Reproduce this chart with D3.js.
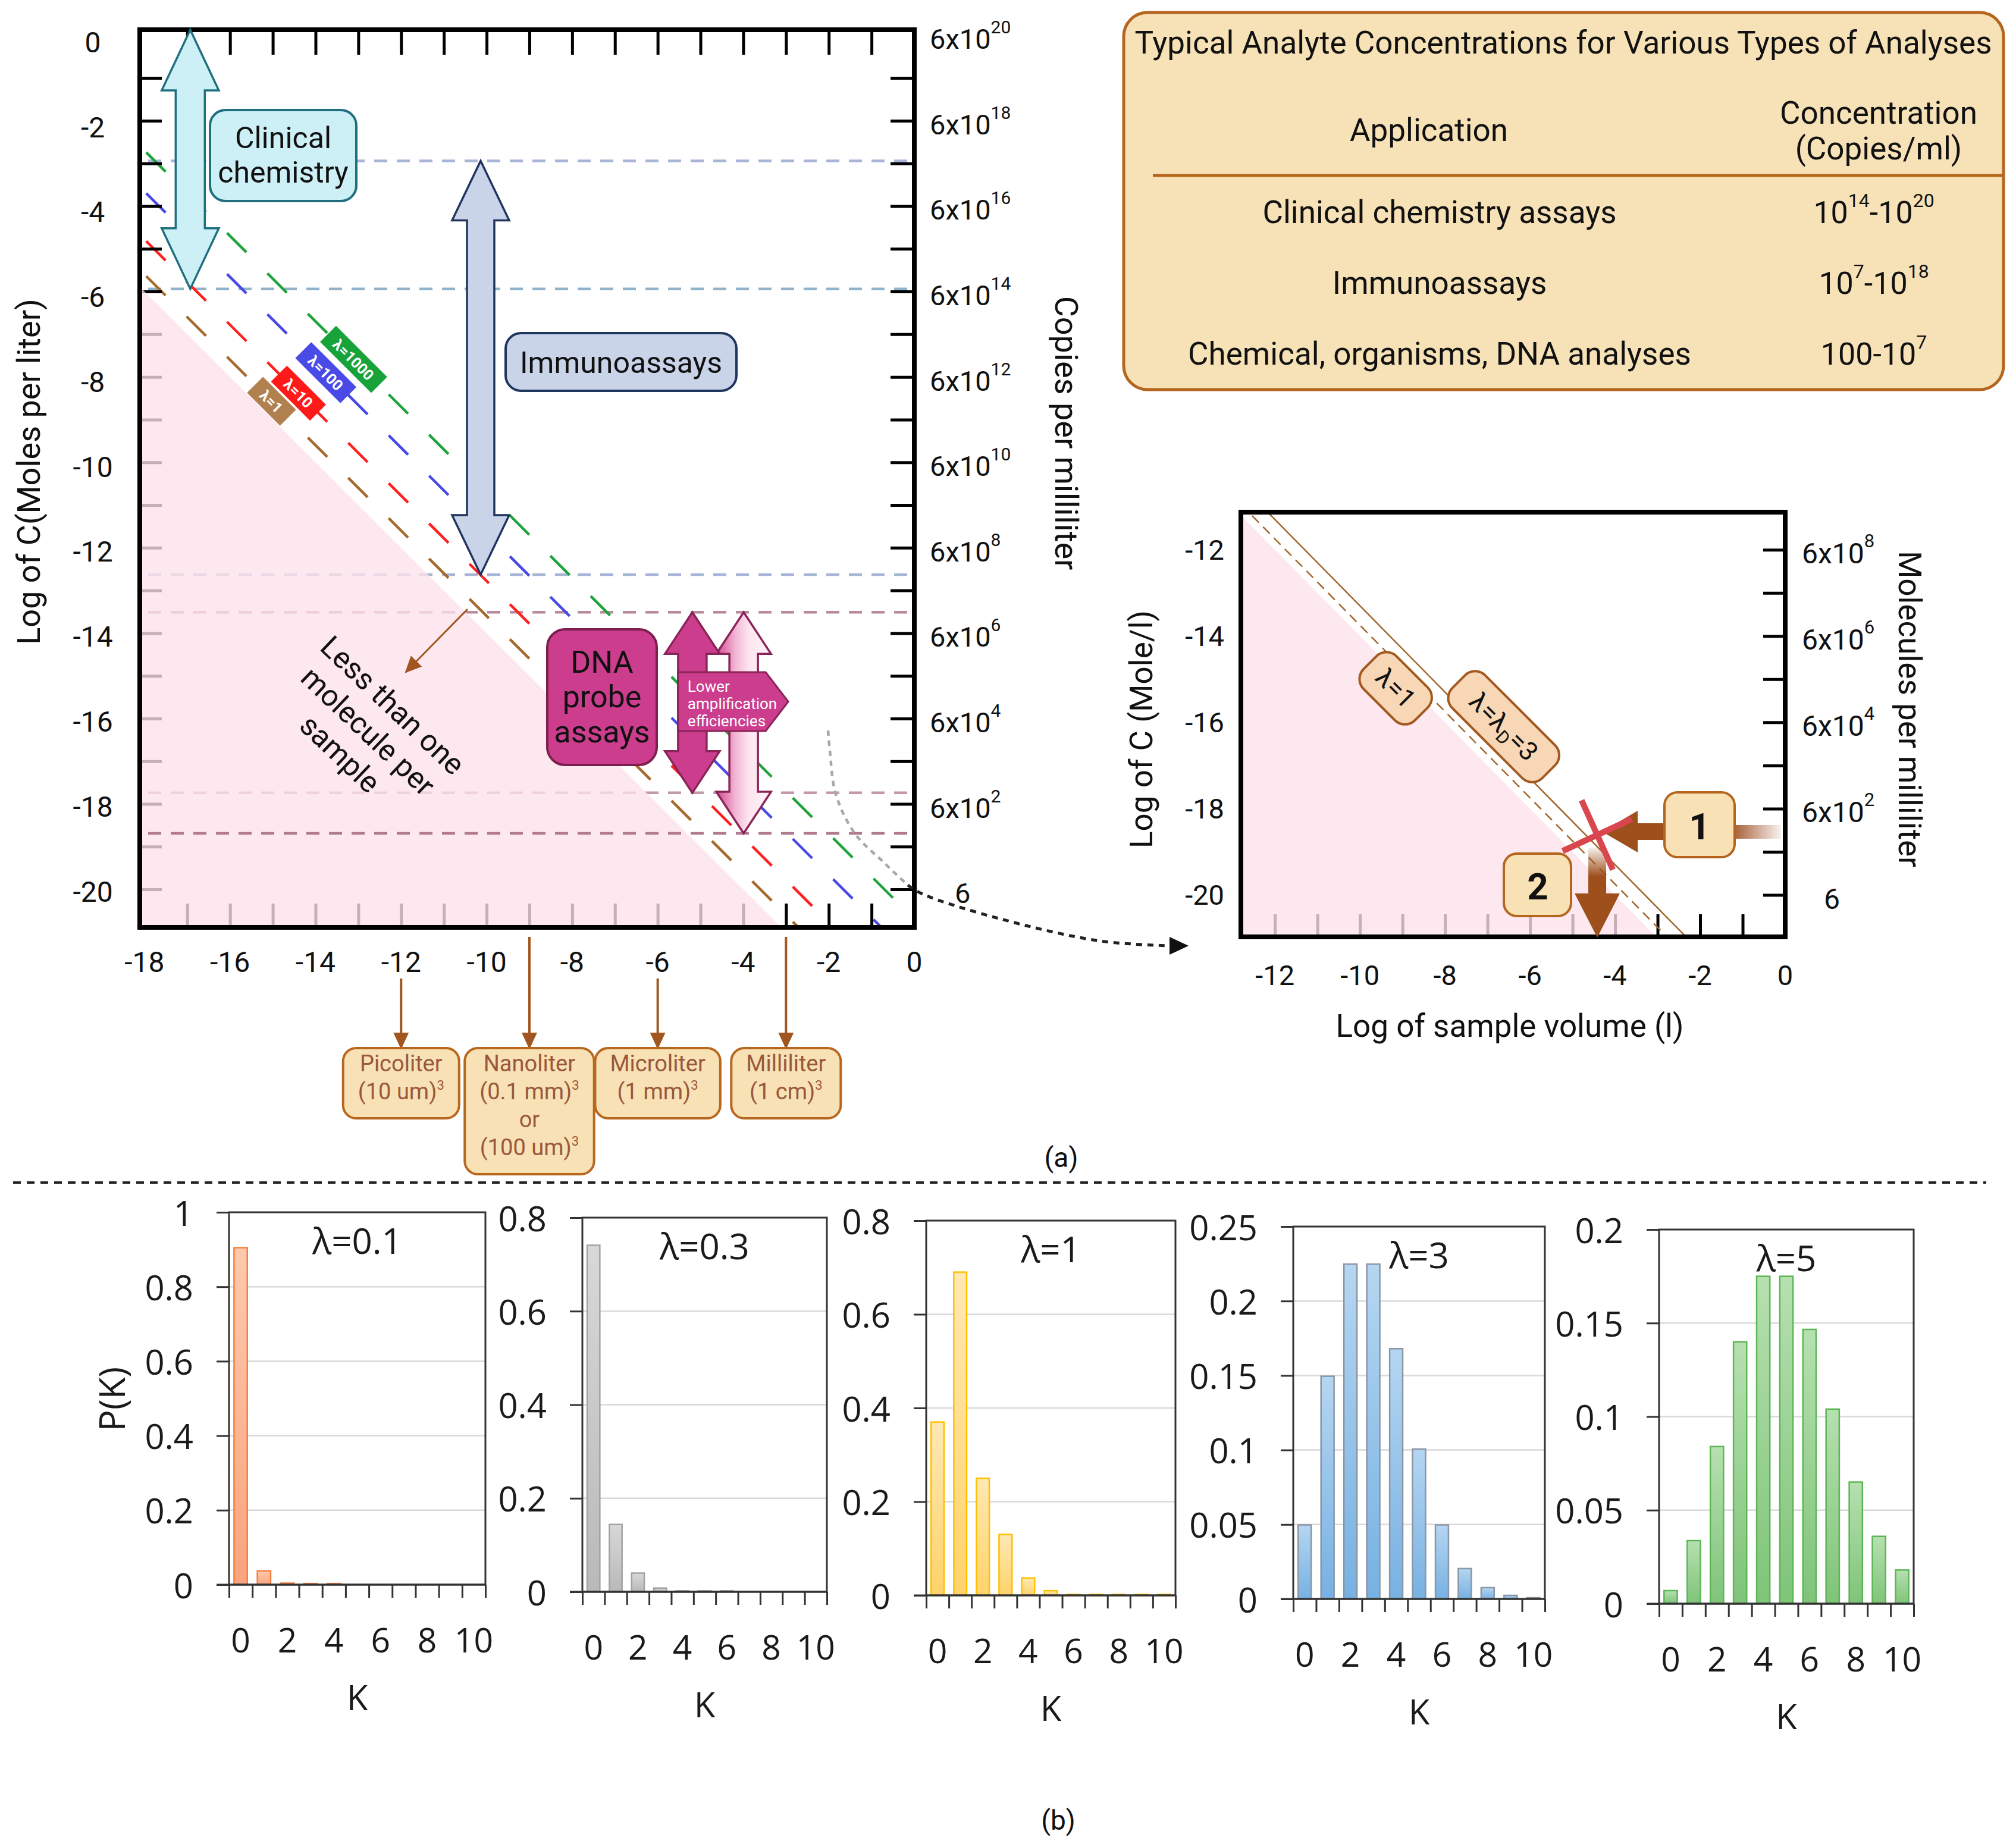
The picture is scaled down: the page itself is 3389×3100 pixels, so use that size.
<!DOCTYPE html>
<html><head><meta charset="utf-8">
<script src="https://cdn.jsdelivr.net/npm/d3@7/dist/d3.min.js"></script>
<style>html,body{margin:0;padding:0;background:#fff;} svg{display:block;}</style>
</head><body>
<svg id="fig" width="3389" height="3100" xmlns="http://www.w3.org/2000/svg"></svg>
<script>
// ================= DATA =================
// Panel (a) main chart
const volumeTickLabels = [-18,-16,-14,-12,-10,-8,-6,-4,-2,0];
const concTickLabels = [0,-2,-4,-6,-8,-10,-12,-14,-16,-18,-20];
const copiesTickValues = [0,-2,-4,-6,-8,-10,-12,-14,-16,-18,-20];
const copiesTickLabels = ["6x10^{20}","6x10^{18}","6x10^{16}","6x10^{14}","6x10^{12}","6x10^{10}","6x10^{8}","6x10^{6}","6x10^{4}","6x10^{2}","6"];
const lambdaNames = ["λ=1","λ=10","λ=100","λ=1000"];
const lambdaIntercepts = [-23.6,-22.78,-21.66,-20.7];   // log C = b - log V
const lambdaLabelAt = [-15.03,-14.4,-13.76,-13.11];      // log V of label
const oneMoleculeIntercept = -24.0;
const levelValues = [-2.94,-5.94,-12.63,-13.51,-17.74,-18.69];
const clinicalRange = [0.13,-5.94], clinicalAt = -16.93;
const immunoRange = [-2.94,-12.63], immunoAt = -10.14;
const dnaRanges = [[-13.51,-17.74],[-13.51,-18.69]], dnaAt = [-5.19,-3.99];
const volumeUnitNames = ["Picoliter","Nanoliter","Microliter","Milliliter"];
const volumeUnitSizes = [["(10 um)^{3}"],["(0.1 mm)^{3}","or","(100 um)^{3}"],["(1 mm)^{3}"],["(1 cm)^{3}"]];
const volumeUnitLog = [-12,-9,-6,-3];
// Table
const tableTitle = "Typical Analyte Concentrations for Various Types of Analyses";
const tableHeaders = ["Application","Concentration","(Copies/ml)"];
const tableApps = ["Clinical chemistry assays","Immunoassays","Chemical, organisms, DNA analyses"];
const tableConcs = ["10^{14}-10^{20}","10^{7}-10^{18}","100-10^{7}"];
// Inset
const insetVolTicks = [-12,-10,-8,-6,-4,-2,0];
const insetConcTicks = [-12,-14,-16,-18,-20];
const insetCopiesLabels = ["6x10^{8}","6x10^{6}","6x10^{4}","6x10^{2}","6"];
const insetOneMolIntercept = -24.0;
const insetLambda1Intercept = -23.75;
const insetLambdaDIntercept = -23.3;
const insetLabelNames = ["λ=1","λ=λ_{D}=3"];
const insetLabelAt = [[-9.16,-15.21],[-6.62,-16.1]];
const insetCrossAt = [-4.42,-18.61];
// Panel (b) Poisson
const poissonTitles = ["λ=0.1","λ=0.3","λ=1","λ=3","λ=5"];
const kValues = [0,1,2,3,4,5,6,7,8,9,10];
const pLambda01 = [0.905,0.037,0.004,0.003,0.003,0,0,0,0,0,0];
const pLambda03 = [0.741,0.144,0.04,0.008,0.002,0.002,0.002,0,0,0,0];
const pLambda1  = [0.37,0.69,0.25,0.13,0.037,0.01,0.002,0.002,0.002,0.002,0.002];
const pLambda3  = [0.0497,0.1495,0.2248,0.2248,0.168,0.1006,0.0497,0.0204,0.0076,0.0024,0.0008];
const pLambda5  = [0.007,0.0337,0.084,0.140,0.175,0.175,0.1466,0.104,0.065,0.036,0.018];
const poissonYMax = [1,0.8,0.8,0.25,0.2];
const poissonYStep = [0.2,0.2,0.2,0.05,0.05];

// ================= DRAW =================
const svg = d3.select('#fig');
const defs = svg.append('defs');
const ROB = 'Roboto, "Liberation Sans", Arial, sans-serif';
const OPS = '"Open Sans", "DejaVu Sans", sans-serif';

function addRich(textSel, str, base, sup, rise) {
  const re = /(\^|_)\{([^}]*)\}/g;
  let last = 0, m; const parts = [];
  while ((m = re.exec(str))) {
    if (m.index > last) parts.push({t: str.slice(last, m.index), k: 0});
    parts.push({t: m[2], k: m[1] === '^' ? 1 : -1});
    last = re.lastIndex;
  }
  if (last < str.length) parts.push({t: str.slice(last), k: 0});
  let cur = 0;
  parts.forEach(p => {
    const ts = textSel.append('tspan').text(p.t).attr('font-size', p.k ? sup : base);
    const target = p.k === 1 ? -rise : (p.k === -1 ? rise * 0.6 : 0);
    if (target !== cur) { ts.attr('dy', target - cur); cur = target; }
  });
  return textSel;
}
function txt(g, x, y, s, size, opts = {}) {
  const t = g.append('text').attr('x', x).attr('y', y)
    .attr('font-family', opts.family || ROB).attr('font-size', size)
    .attr('fill', opts.fill || '#111').attr('text-anchor', opts.anchor || 'middle')
    .attr('dominant-baseline', 'central');
  if (opts.weight) t.attr('font-weight', opts.weight);
  if (opts.transform) t.attr('transform', opts.transform);
  if (opts.rich) addRich(t, s, size, opts.sup || size * 0.62, opts.rise || size * 0.42);
  else t.text(s);
  return t;
}
function dblArrowV(x, y1, y2, w, W, L) {
  return `M${x},${y1}L${x+W/2},${y1+L}L${x+w/2},${y1+L}L${x+w/2},${y2-L}L${x+W/2},${y2-L}L${x},${y2}L${x-W/2},${y2-L}L${x-w/2},${y2-L}L${x-w/2},${y1+L}L${x-W/2},${y1+L}Z`;
}
defs.append('marker').attr('id','brownHead').attr('markerUnits','userSpaceOnUse')
  .attr('markerWidth',30).attr('markerHeight',30).attr('refX',26).attr('refY',13)
  .attr('orient','auto').append('path').attr('d','M0,0L28,13L0,26Z').attr('fill','#a0561e');

// ---------- MAIN CHART ----------
const M = {l:235, r:1537, t:50, b:1559};
const xM = d3.scaleLinear().domain([-18.11, 0]).range([M.l, M.r]);
const yM = d3.scaleLinear().domain([0.13, -20.89]).range([M.t, M.b]);
defs.append('clipPath').attr('id','clipM').append('rect')
  .attr('x',M.l).attr('y',M.t).attr('width',M.r-M.l).attr('height',M.b-M.t);
const gM = svg.append('g');
const levelColors = ['#a9b5d7','#90b3cb','#a9b5d7','#b98a9f','#c49aab','#b27a91'];
const levelUnder = levelValues.slice(0,5), levelOver = levelValues.slice(5);
function drawLevels(vals, offset) {
  gM.append('g').selectAll('line').data(vals).join('line')
    .attr('x1', M.l + 14).attr('x2', M.r).attr('y1', d => yM(d)).attr('y2', d => yM(d))
    .attr('stroke', (d,i) => levelColors[i+offset]).attr('stroke-width', 4.5)
    .attr('stroke-dasharray','22,16');
}
drawLevels(levelUnder, 0);
const lambdaColors = ['#a5692c','#ff1f1f','#4848e6','#1fa33c'];
const gLines = gM.append('g').attr('clip-path','url(#clipM)');
const v0 = xM.domain()[0];
lambdaIntercepts.forEach((b,i) => {
  const lineGen = d3.line().x(d => xM(d)).y(d => yM(b - d));
  gLines.append('path').attr('d', lineGen([v0 + 0.15, 0.3]))
    .attr('fill','none').attr('stroke', lambdaColors[i]).attr('stroke-width', 4.5)
    .attr('stroke-dasharray','46,50');
});
function tickAxis(axis, tx, ty) {
  const g = gM.append('g').attr('transform', `translate(${tx},${ty})`).call(axis);
  g.select('.domain').remove();
  g.selectAll('line').attr('stroke','#000').attr('stroke-width',5);
  g.selectAll('text').remove();
  return g;
}
const intTicks = d3.range(-1,-21,-1), intVol = d3.range(-17,0);
tickAxis(d3.axisLeft(yM).tickValues(intTicks).tickSize(-37).tickFormat(''), M.l, 0);
tickAxis(d3.axisRight(yM).tickValues(intTicks).tickSize(-40).tickFormat(''), M.r, 0);
tickAxis(d3.axisTop(xM).tickValues(intVol).tickSize(-42).tickFormat(''), 0, M.t);
tickAxis(d3.axisBottom(xM).tickValues(intVol).tickSize(-40).tickFormat(''), 0, M.b);
const cb = yM.domain()[1];
const pinkPts = [[v0, oneMoleculeIntercept - v0],[v0, cb],[oneMoleculeIntercept - cb, cb]];
gM.append('path').attr('clip-path','url(#clipM)')
  .attr('d', d3.line().x(d => xM(d[0])).y(d => yM(d[1]))(pinkPts) + 'Z')
  .attr('fill','rgb(253,226,234)').attr('fill-opacity',0.78);
drawLevels(levelOver, 5);
gM.append('rect').attr('x',M.l).attr('y',M.t).attr('width',M.r-M.l).attr('height',M.b-M.t)
  .attr('fill','none').attr('stroke','#000').attr('stroke-width',8);
concTickLabels.forEach(c => txt(gM, 156, yM(c) + 4 + 8*(1 + c/20), String(c), 48));
volumeTickLabels.forEach(v => txt(gM, xM(v), 1617, String(v), 48));
copiesTickValues.forEach((c,i) => {
  const lab = copiesTickLabels[i];
  txt(gM, lab === '6' ? 1605 : 1563, yM(c) + 6, lab, 47, {anchor:'start', rich:true, sup:30, rise:20});
});
txt(gM, 48, 793, 'Log of C(Moles per liter)', 54, {transform:'rotate(-90,48,793)'});
txt(gM, 1792, 728, 'Copies per milliliter', 54, {transform:'rotate(90,1792,728)'});

const lamBoxColors = ['#b0814f','#ff1a1a','#4a4ae6','#17a23a'];
const lamAngle = Math.atan2(yM(-1) - yM(0), xM(1) - xM(0)) * 180 / Math.PI;
lambdaNames.forEach((nm,i) => {
  const v = lambdaLabelAt[i], c = lambdaIntercepts[i] - v;
  const g = gM.append('g').attr('transform', `translate(${xM(v)},${yM(c)}) rotate(${lamAngle})`);
  const rect = g.append('rect');
  const t = txt(g, 0, 1, nm, 25, {fill:'#fff', weight:'bold'});
  const w = t.node().getComputedTextLength() + 36;
  rect.attr('x', -w/2).attr('y', -19).attr('width', w).attr('height', 38).attr('fill', lamBoxColors[i]);
});

const gA = svg.append('g');
gA.append('path').attr('d', dblArrowV(xM(clinicalAt), yM(clinicalRange[0]), yM(clinicalRange[1]), 49, 96, 102))
  .attr('fill','#cdeff6').attr('stroke','#1e6f7f').attr('stroke-width',3.5).attr('stroke-linejoin','miter');
gA.append('rect').attr('x',353).attr('y',185).attr('width',246).attr('height',153).attr('rx',26)
  .attr('fill','#cdeff6').attr('stroke','#1e6f7f').attr('stroke-width',4);
txt(gA, 476, 232, 'Clinical', 50);
txt(gA, 476, 290, 'chemistry', 50);
gA.append('path').attr('d', dblArrowV(xM(immunoAt), yM(immunoRange[0]), yM(immunoRange[1]), 46, 96, 100))
  .attr('fill','#c9d4e8').attr('stroke','#1f355e').attr('stroke-width',3.5);
gA.append('rect').attr('x',850).attr('y',560).attr('width',388).attr('height',97).attr('rx',26)
  .attr('fill','#c9d4e8').attr('stroke','#1f355e').attr('stroke-width',4);
txt(gA, 1044, 610, 'Immunoassays', 50);
const gradDNA = defs.append('linearGradient').attr('id','gDNA').attr('x1','0').attr('x2','1').attr('y1','0').attr('y2','0');
gradDNA.append('stop').attr('offset','0').attr('stop-color','#d0478f');
gradDNA.append('stop').attr('offset','0.35').attr('stop-color','#f3b6d4');
gradDNA.append('stop').attr('offset','0.6').attr('stop-color','#fde6f1');
gradDNA.append('stop').attr('offset','1').attr('stop-color','#fff3f8');
gA.append('path').attr('d', dblArrowV(xM(dnaAt[1]), yM(dnaRanges[1][0]), yM(dnaRanges[1][1]), 48, 92, 70))
  .attr('fill','url(#gDNA)').attr('stroke','#8a2458').attr('stroke-width',3.5);
gA.append('path').attr('d', dblArrowV(xM(dnaAt[0]), yM(dnaRanges[0][0]), yM(dnaRanges[0][1]), 48, 92, 70))
  .attr('fill','#cc3d8e').attr('stroke','#8a2458').attr('stroke-width',3.5);
const pxL = xM(dnaAt[0]), pxR = xM(dnaAt[1]);
gA.append('path').attr('d', `M${pxL-24},1130H${pxR+37}L${pxR+75},1179.5L${pxR+37},1229H${pxL-24}Z`)
  .attr('fill','#cc3d8e').attr('stroke','#8a2458').attr('stroke-width',3);
['Lower','amplification','efficiencies'].forEach((s,i) => txt(gA, pxL-8, 1154 + i*29, s, 26, {anchor:'start', fill:'#fff'}));
gA.append('rect').attr('x',920).attr('y',1058).attr('width',184).attr('height',228).attr('rx',30)
  .attr('fill','#cc3d8e').attr('stroke','#7c1e4e').attr('stroke-width',4);
['DNA','probe','assays'].forEach((s,i) => txt(gA, 1012, 1113 + i*58.5, s, 52));
gA.append('line').attr('x1',786).attr('y1',1024).attr('x2',682).attr('y2',1130)
  .attr('stroke','#a0561e').attr('stroke-width',3).attr('marker-end','url(#brownHead)');
const gLess = gA.append('g').attr('transform','translate(660,1186) rotate(43.6)');
['Less than one','molecule per','sample'].forEach((s,i) => txt(gLess, i===2?-8:0, i*60, s, 50));

// volume unit boxes
volumeUnitNames.forEach((nm,i) => {
  const x = xM(volumeUnitLog[i]);
  const y0 = (i === 1 || i === 3) ? 1575 : 1645;
  gA.append('line').attr('x1',x).attr('x2',x).attr('y1',y0).attr('y2',1762)
    .attr('stroke','#a0561e').attr('stroke-width',4).attr('marker-end','url(#brownHead)');
  const lines = [nm].concat(volumeUnitSizes[i]);
  const g = gA.append('g');
  const rect = g.append('rect');
  let wmax = 0;
  lines.forEach((s,j) => {
    const t = txt(g, x, 1788 + j*47, s, 38, {fill:'#9a573a', rich:true, sup:22, rise:11});
    wmax = Math.max(wmax, t.node().getComputedTextLength());
  });
  const w = wmax + 50, h = lines.length*47 + 24;
  rect.attr('x', x - w/2).attr('y', 1762).attr('width', w).attr('height', h).attr('rx', 22)
    .attr('fill','#f7e1b5').attr('stroke','#b8671f').attr('stroke-width',4);
});

// ---------- TABLE ----------
const gT = svg.append('g');
gT.append('rect').attr('x',1889).attr('y',21).attr('width',1479).attr('height',634).attr('rx',40)
  .attr('fill','#f7e2b7').attr('stroke','#b5651d').attr('stroke-width',5);
txt(gT, 2628, 72, tableTitle, 53);
txt(gT, 2402, 219, tableHeaders[0], 53);
txt(gT, 3158, 190, tableHeaders[1], 53);
txt(gT, 3158, 250, tableHeaders[2], 53);
gT.append('line').attr('x1',1938).attr('x2',3366).attr('y1',295).attr('y2',295)
  .attr('stroke','#b5651d').attr('stroke-width',5);
const rowY = [357, 476, 595];
tableApps.forEach((s,i) => txt(gT, 2420, rowY[i], s, 53));
tableConcs.forEach((s,i) => txt(gT, 3150, rowY[i], s, 52, {rich:true, sup:32, rise:20}));

// ---------- INSET ----------
const I = {l:2086, r:3001, t:861, b:1575};
const xI = d3.scaleLinear().domain([-12.8, 0]).range([I.l, I.r]);
const yI = d3.scaleLinear().domain([-11.13, -20.97]).range([I.t, I.b]);
defs.append('clipPath').attr('id','clipI').append('rect')
  .attr('x',I.l).attr('y',I.t).attr('width',I.r-I.l).attr('height',I.b-I.t);
const gI = svg.append('g');
function tickAxisI(axis, tx, ty) {
  const g = gI.append('g').attr('transform', `translate(${tx},${ty})`).call(axis);
  g.select('.domain').remove();
  g.selectAll('line').attr('stroke','#000').attr('stroke-width',5);
  g.selectAll('text').remove();
}
tickAxisI(d3.axisBottom(xI).tickValues(d3.range(-12,0)).tickSize(-38).tickFormat(''), 0, I.b);
tickAxisI(d3.axisRight(yI).tickValues(d3.range(-12,-21,-1)).tickSize(-37).tickFormat(''), I.r, 0);
const iv0 = xI.domain()[0], icb = yI.domain()[1];
const ipink = [[iv0, insetOneMolIntercept - iv0],[iv0, icb],[insetOneMolIntercept - icb, icb]];
gI.append('path').attr('clip-path','url(#clipI)')
  .attr('d', d3.line().x(d => xI(d[0])).y(d => yI(d[1]))(ipink) + 'Z')
  .attr('fill','rgb(253,226,234)').attr('fill-opacity',0.78);
const gIL = gI.append('g').attr('clip-path','url(#clipI)');
const iLine = b => d3.line().x(d => xI(d)).y(d => yI(b - d))([iv0 - 0.5, 0]);
gIL.append('path').attr('d', iLine(insetLambda1Intercept)).attr('fill','none')
  .attr('stroke','#a3662c').attr('stroke-width',2.5).attr('stroke-dasharray','16,10');
gIL.append('path').attr('d', iLine(insetLambdaDIntercept)).attr('fill','none')
  .attr('stroke','#a3662c').attr('stroke-width',2.5);
gI.append('rect').attr('x',I.l).attr('y',I.t).attr('width',I.r-I.l).attr('height',I.b-I.t)
  .attr('fill','none').attr('stroke','#000').attr('stroke-width',8);
insetConcTicks.forEach(c => txt(gI, 2058, yI(c), String(c), 47, {anchor:'end'}));
insetVolTicks.forEach(v => txt(gI, xI(v), 1639, String(v), 47));
insetConcTicks.forEach((c,i) => {
  const lab = insetCopiesLabels[i];
  txt(gI, lab === '6' ? 3066 : 3029, yI(c) + 6, lab, 48, {anchor:'start', rich:true, sup:31, rise:21});
});
txt(gI, 1919, 1226, 'Log of C (Mole/l)', 53, {transform:'rotate(-90,1919,1226)'});
txt(gI, 3210, 1192, 'Molecules per milliliter', 53, {transform:'rotate(90,3210,1192)'});
txt(gI, 2538, 1725, 'Log of sample volume (l)', 53);
const insetBoxLen = [122, 214];
insetLabelNames.forEach((nm,i) => {
  const [v,c] = insetLabelAt[i];
  const g = gI.append('g').attr('transform', `translate(${xI(v)},${yI(c)}) rotate(45)`);
  g.append('rect').attr('x', -insetBoxLen[i]/2).attr('y', -39).attr('width', insetBoxLen[i]).attr('height', 78)
    .attr('rx', 24).attr('fill','#f7d7b6').attr('stroke','#a3581f').attr('stroke-width',4);
  txt(g, 0, 0, nm, 44, {rich:true, sup:30, rise:22});
});
const brown = '#9d4f1c';
const gr1 = defs.append('linearGradient').attr('id','gFadeR').attr('x1','0').attr('x2','1');
gr1.append('stop').attr('offset','0').attr('stop-color','#a8623a');
gr1.append('stop').attr('offset','1').attr('stop-color','#a8623a').attr('stop-opacity',0.08);
const gr2 = defs.append('linearGradient').attr('id','gFadeD').attr('x1','0').attr('x2','0').attr('y1','0').attr('y2','1');
gr2.append('stop').attr('offset','0').attr('stop-color',brown).attr('stop-opacity',0.1);
gr2.append('stop').attr('offset','0.6').attr('stop-color',brown).attr('stop-opacity',1);
const cx = xI(insetCrossAt[0]), cy = yI(insetCrossAt[1]);
gI.append('rect').attr('x',2916).attr('y',1387).attr('width',78).attr('height',23).attr('fill','url(#gFadeR)');
gI.append('path').attr('d', `M${cx+8},1398L${cx+68},1363L${cx+68},1384L2800,1384L2800,1412L${cx+68},1412L${cx+68},1433Z`).attr('fill',brown);
gI.append('rect').attr('x',cx-15).attr('y',cy+22).attr('width',30).attr('height',80).attr('fill','url(#gFadeD)');
gI.append('path').attr('d', `M${cx-38},1502L${cx+38},1502L${cx},1576Z`).attr('fill',brown);
gI.append('rect').attr('x',2798).attr('y',1332).attr('width',118).attr('height',109).attr('rx',22)
  .attr('fill','#f7e1b5').attr('stroke','#b5651d').attr('stroke-width',4);
txt(gI, 2857, 1389, '1', 62, {weight:'bold'});
gI.append('rect').attr('x',2528).attr('y',1435).attr('width',113).attr('height',105).attr('rx',22)
  .attr('fill','#f7e1b5').attr('stroke','#b5651d').attr('stroke-width',4);
txt(gI, 2585, 1490, '2', 62, {weight:'bold'});
[65.7, -24.8].forEach(a => {
  const r = a*Math.PI/180, L = 64;
  gI.append('line').attr('x1', cx - L*Math.cos(r)).attr('y1', cy - L*Math.sin(r))
    .attr('x2', cx + L*Math.cos(r)).attr('y2', cy + L*Math.sin(r))
    .attr('stroke','#d9464e').attr('stroke-width',10);
});

// dotted connector
const gD = svg.append('g');
const greyPts = [[1392,1228],[1395,1262],[1405,1335],[1437,1401],[1488,1452],[1526,1488]];
const blackPts = [[1526,1488],[1551,1503],[1679,1544],[1850,1582],[1970,1590]];
gD.append('path').attr('d', d3.line().curve(d3.curveCatmullRom)(greyPts)).attr('fill','none')
  .attr('stroke','#a8a8a8').attr('stroke-width',4.5).attr('stroke-dasharray','9,8');
gD.append('path').attr('d', d3.line().curve(d3.curveCatmullRom)(blackPts)).attr('fill','none')
  .attr('stroke','#222').attr('stroke-width',5).attr('stroke-dasharray','10,9');
gD.append('path').attr('d','M1966,1575L1998,1590L1966,1605Z').attr('fill','#111');

txt(svg, 1784, 1946, '(a)', 46);
svg.append('line').attr('x1',22).attr('x2',3339).attr('y1',1988).attr('y2',1988)
  .attr('stroke','#222').attr('stroke-width',4).attr('stroke-dasharray','13,10');

// ---------- PANEL (b) ----------
const poissonSeries = [pLambda01, pLambda03, pLambda1, pLambda3, pLambda5];
const pBoxes = [{l:385,r:816,t:2038,b:2664},{l:979,r:1390,t:2047,b:2676},{l:1557,r:1976,t:2052,b:2682},
                {l:2174,r:2597,t:2062,b:2688},{l:2789,r:3217,t:2067,b:2696}];
const barStyles = [{top:'#fdc9ae',bot:'#f9a47d',stroke:'#f5813f'},{top:'#d8d8d8',bot:'#b9b9b9',stroke:'#a3a3a3'},
                   {top:'#ffe8b3',bot:'#ffd36b',stroke:'#ffc000'},{top:'#b5d6f1',bot:'#77b1e3',stroke:'#8a96a3'},
                   {top:'#b6e0b0',bot:'#7fc479',stroke:'#5cb655'}];
const fmt = v => String(+v.toFixed(2));
poissonSeries.forEach((vals, i) => {
  const B = pBoxes[i], st = barStyles[i];
  const g = svg.append('g');
  const x = d3.scaleBand().domain(kValues).range([B.l, B.r]).paddingInner(0.43).paddingOuter(0.215);
  const xb = d3.scaleLinear().domain([-0.5, 10.5]).range([B.l, B.r]);
  const y = d3.scaleLinear().domain([0, poissonYMax[i]]).range([B.b, B.t]);
  const ticks = d3.range(0, poissonYMax[i] + 1e-9, poissonYStep[i]);
  const gid = 'bg' + i;
  const lg = defs.append('linearGradient').attr('id', gid).attr('x1','0').attr('x2','0').attr('y1','0').attr('y2','1');
  lg.append('stop').attr('offset','0').attr('stop-color', st.top);
  lg.append('stop').attr('offset','1').attr('stop-color', st.bot);
  g.append('g').selectAll('line').data(ticks.slice(1, -1)).join('line')
    .attr('x1', B.l).attr('x2', B.r).attr('y1', d => y(d)).attr('y2', d => y(d))
    .attr('stroke','#d9d9d9').attr('stroke-width',2.5);
  g.append('g').selectAll('rect').data(kValues.filter(k => vals[k] > 0)).join('rect')
    .attr('x', k => x(k)).attr('width', x.bandwidth())
    .attr('y', k => y(vals[k])).attr('height', k => y(0) - y(vals[k]))
    .attr('fill', `url(#${gid})`).attr('stroke', st.stroke).attr('stroke-width', 2.5);
  g.append('rect').attr('x',B.l).attr('y',B.t).attr('width',B.r-B.l).attr('height',B.b-B.t)
    .attr('fill','none').attr('stroke','#333').attr('stroke-width',3);
  const ya = g.append('g').attr('transform', `translate(${B.l},0)`)
    .call(d3.axisLeft(y).tickValues(ticks).tickSize(21).tickFormat(''));
  ya.select('.domain').remove(); ya.selectAll('line').attr('stroke','#333').attr('stroke-width',3);
  const xa = g.append('g').attr('transform', `translate(0,${B.b})`)
    .call(d3.axisBottom(xb).tickValues(d3.range(-0.5, 11, 1)).tickSize(22).tickFormat(''));
  xa.select('.domain').remove(); xa.selectAll('line').attr('stroke','#333').attr('stroke-width',3);
  g.append('line').attr('x1', B.l - 21).attr('x2', B.r).attr('y1', B.b).attr('y2', B.b)
    .attr('stroke','#333').attr('stroke-width',3);
  ticks.forEach(tv => txt(g, B.l - 60, y(tv), fmt(tv), 58, {family: OPS, anchor:'end', fill:'#1a1a1a'}));
  kValues.filter(k => k % 2 === 0).forEach(k => txt(g, x(k) + x.bandwidth()/2, B.b + 92, String(k), 57, {family: OPS, fill:'#1a1a1a'}));
  txt(g, (B.l + B.r)/2, B.b + 188, 'K', 58, {family: OPS, fill:'#1a1a1a'});
  txt(g, (B.l + B.r)/2, B.t + 47, poissonTitles[i], 60, {family: OPS, fill:'#1a1a1a'});
});
txt(svg, 187, 2352, 'P(K)', 60, {family: OPS, fill:'#1a1a1a', transform:'rotate(-90,187,2352)'});
txt(svg, 1779, 3060, '(b)', 46);
</script>
</body></html>
